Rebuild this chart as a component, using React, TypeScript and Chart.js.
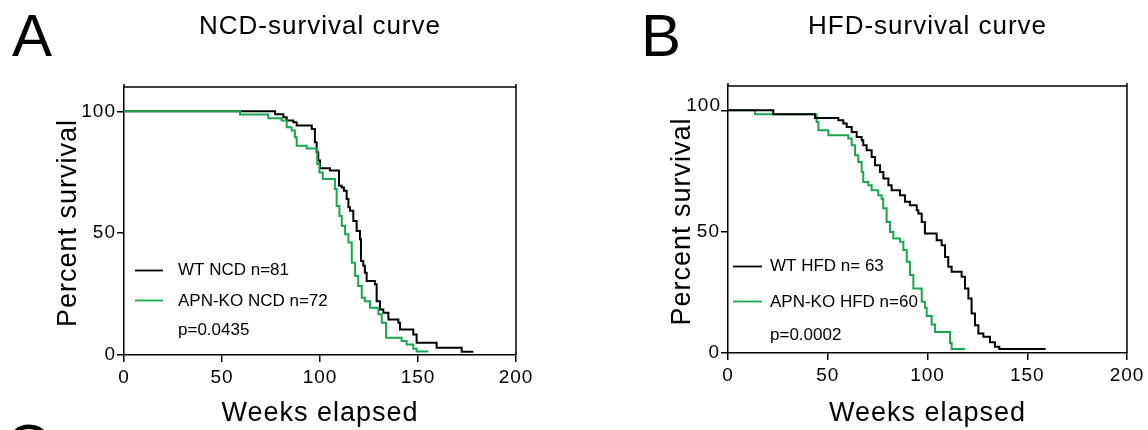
import React, { useEffect, useRef } from 'react';
import { Chart, registerables } from 'chart.js';

Chart.register(...registerables);

const FONT = "'Liberation Sans', Arial, Helvetica, sans-serif";
const BLACK = '#000000';
const GREEN = '#17a84f';

// ---------- Data ----------
const xTicks = [0, 50, 100, 150, 200];
const yTicks = [0, 50, 100];

// Panel A: NCD
const ncdWtWeeks = [0, 77.1, 81.3, 83, 86.4, 88.1, 95.8, 97.4, 98.3, 99.1, 100, 105.1, 109.7, 111.1, 112.2, 113.6, 114.5, 115.3, 117, 118.7, 120.4, 120.9, 122.1, 122.9, 123.8, 128, 128.9, 130.6, 132.3, 134.9, 140, 140.8, 147.6, 149.3, 159.5, 172.3, 178.2];
const ncdWtSurvival = [100, 98.8, 97.6, 96.2, 95.5, 94.2, 92.8, 87.3, 83.2, 79.8, 76.6, 75.7, 69.5, 68.8, 67.4, 64, 60.6, 59.2, 55, 50.9, 47.5, 38.6, 36.6, 33.8, 30.4, 29, 22.1, 18.7, 17.3, 14.6, 13.2, 10.5, 8.4, 5, 3, 1.3, 1.3];
const ncdKoWeeks = [0, 59.2, 73.6, 80.4, 83, 85.5, 87.2, 88.1, 93.2, 98.6, 99.7, 101.4, 107.6, 108.5, 109.9, 111.1, 112.8, 114.5, 116.2, 117.9, 119.5, 121.3, 122.9, 125.5, 129.8, 131.5, 133.7, 141.6, 144.2, 147.6, 149.3, 155.3];
const ncdKoSurvival = [100, 98.7, 97.2, 96.2, 93.5, 92.1, 89.4, 85.9, 84.8, 78.4, 74.9, 72.2, 68.1, 61.2, 57.1, 53, 49.6, 46.2, 37.9, 32.4, 28.3, 23.5, 22.1, 19.4, 16.7, 13.2, 7.1, 5.7, 4.3, 2.6, 1.4, 1.4];

// Panel B: HFD
const hfdWtWeeks = [0, 22.7, 43.6, 55.3, 57.8, 59.5, 62, 64.5, 67, 67.8, 69.5, 72, 73.7, 76.2, 77.9, 80.4, 82, 86.2, 88.7, 91.2, 94.6, 95.4, 97.1, 98.7, 104.6, 107.1, 108.8, 110.4, 112.1, 117.1, 118.8, 120.5, 122.1, 123.8, 125.5, 128, 131.3, 133.8, 136, 159.2];
const hfdWtSurvival = [100, 98.4, 96.8, 95.9, 94.5, 93.1, 91, 89, 87.7, 85.6, 83.5, 80.8, 77.4, 74.6, 71.9, 69.1, 67.1, 65, 62.3, 60.9, 58.8, 57.5, 54, 49.2, 46.5, 44.4, 39.6, 35.5, 33.5, 31.4, 26.6, 22.5, 16.3, 11.4, 8, 6.7, 4.4, 2.6, 1.6, 1.6];
const hfdKoWeeks = [0, 13.5, 44.4, 45.3, 50.3, 60.3, 62, 63.7, 65.3, 67, 67.8, 70.3, 72, 75.3, 77, 77.8, 79.5, 81.2, 82.9, 86.2, 87.9, 89.6, 91.2, 92.9, 97.1, 98.7, 99.6, 102.1, 103.8, 111.3, 112.1, 118.8];
const hfdKoSurvival = [100, 98.4, 95.2, 91.8, 89.7, 88.4, 85.6, 81.5, 78.7, 74.6, 70.5, 69.1, 67.1, 65, 63.5, 59.6, 54, 49.9, 47.2, 45.8, 42.4, 37.6, 32.1, 26.6, 21.1, 18.6, 15.2, 11.7, 8.7, 4.1, 1.6, 1.6];

const toPoints = (w: number[], s: number[]) => w.map((x, i) => ({ x, y: s[i] }));

type PanelCfg = {
  left: number;
  letter: string;
  letterX: number;
  extraLetter?: { text: string; x: number; y: number };
  title: string;
  padding: { left: number; right: number; top: number; bottom: number };
  wt: { weeks: number[]; surv: number[]; label: string };
  ko: { weeks: number[]; surv: number[]; label: string };
  pText: string;
  greenOnTop: boolean;
  legend: { lineX0: number; lineX1: number; textX: number; y1: number; y2: number; y3: number };
  yTitleX: number;
  raise100: boolean;
};

const panels: PanelCfg[] = [
  {
    left: 0,
    letter: 'A',
    letterX: 12,
    extraLetter: { text: 'C', x: 6, y: 466 },
    title: 'NCD-survival curve',
    padding: { left: 64, right: 58, top: 87, bottom: 15 },
    wt: { weeks: ncdWtWeeks, surv: ncdWtSurvival, label: 'WT NCD n=81' },
    ko: { weeks: ncdKoWeeks, surv: ncdKoSurvival, label: 'APN-KO NCD n=72' },
    pText: 'p=0.0435',
    greenOnTop: true,
    legend: { lineX0: 11, lineX1: 39, textX: 54, y1: 270.5, y2: 300.5, y3: 335 },
    yTitleX: 76,
    raise100: false,
  },
  {
    left: 574,
    letter: 'B',
    letterX: 67,
    title: 'HFD-survival curve',
    padding: { left: 94, right: 21, top: 86, bottom: 17 },
    wt: { weeks: hfdWtWeeks, surv: hfdWtSurvival, label: 'WT HFD n= 63' },
    ko: { weeks: hfdKoWeeks, surv: hfdKoSurvival, label: 'APN-KO HFD n=60' },
    pText: 'p=0.0002',
    greenOnTop: false,
    legend: { lineX0: 5, lineX1: 34, textX: 42, y1: 266.5, y2: 301.5, y3: 340 },
    yTitleX: 116,
    raise100: true,
  },
];

const decorPlugin = {
  id: 'decor',
  beforeDraw(chart: any) {
    chart.ctx.letterSpacing = '1px';
  },
  afterDraw(chart: any, _args: any, opts: any) {
    const cfg: PanelCfg = opts.cfg;
    const { ctx, chartArea: ca } = chart;
    ctx.save();
    // frame (top and right)
    ctx.strokeStyle = BLACK;
    ctx.lineWidth = 1.5;
    ctx.beginPath();
    ctx.moveTo(ca.left, ca.top - 3);
    ctx.lineTo(ca.left, ca.top);
    ctx.moveTo(ca.left, ca.top);
    ctx.lineTo(ca.right, ca.top);
    ctx.moveTo(ca.right, ca.top - 3);
    ctx.lineTo(ca.right, ca.bottom);
    ctx.stroke();

    ctx.fillStyle = BLACK;
    // panel letters
    ctx.letterSpacing = '0px';
    ctx.textAlign = 'left';
    ctx.textBaseline = 'alphabetic';
    ctx.font = `60px ${FONT}`;
    ctx.fillText(cfg.letter, cfg.letterX, 55.5);
    if (cfg.extraLetter) ctx.fillText(cfg.extraLetter.text, cfg.extraLetter.x, cfg.extraLetter.y);

    // title
    ctx.letterSpacing = '1px';
    ctx.textAlign = 'center';
    ctx.font = `26px ${FONT}`;
    const cx = (ca.left + ca.right) / 2;
    ctx.fillText(cfg.title, cx, 34);

    // x axis title
    ctx.font = `27px ${FONT}`;
    ctx.fillText('Weeks elapsed', cx, 421);

    // y axis title
    ctx.save();
    ctx.translate(cfg.yTitleX, (ca.top + ca.bottom) / 2 + 2);
    ctx.rotate(-Math.PI / 2);
    ctx.fillText('Percent survival', 0, 0);
    ctx.restore();

    // raised "100" label
    if (cfg.raise100) {
      ctx.font = `19px ${FONT}`;
      ctx.textAlign = 'right';
      ctx.fillText(String(yTicks[2]), ca.left - 7, chart.scales.y.getPixelForValue(yTicks[2]) + 1);
    }

    // legend
    const L = cfg.legend;
    ctx.lineWidth = 1.8;
    ctx.strokeStyle = BLACK;
    ctx.beginPath();
    ctx.moveTo(ca.left + L.lineX0, L.y1);
    ctx.lineTo(ca.left + L.lineX1, L.y1);
    ctx.stroke();
    ctx.strokeStyle = GREEN;
    ctx.beginPath();
    ctx.moveTo(ca.left + L.lineX0, L.y2);
    ctx.lineTo(ca.left + L.lineX1, L.y2);
    ctx.stroke();
    ctx.letterSpacing = '0px';
    ctx.textAlign = 'left';
    ctx.textBaseline = 'middle';
    ctx.font = `17px ${FONT}`;
    ctx.fillText(cfg.wt.label, ca.left + L.textX, L.y1);
    ctx.fillText(cfg.ko.label, ca.left + L.textX, L.y2 + 1);
    ctx.textBaseline = 'alphabetic';
    ctx.fillText(cfg.pText, ca.left + L.textX, L.y3);
    ctx.restore();
  },
};

function Panel({ cfg }: { cfg: PanelCfg }) {
  const ref = useRef<HTMLCanvasElement | null>(null);
  useEffect(() => {
    if (!ref.current) return;
    const axisCommon = {
      type: 'linear' as const,
      grid: { display: true, drawOnChartArea: false, drawTicks: true, tickLength: 7, color: BLACK, lineWidth: 1.5 },
      border: { display: true, color: BLACK, width: 1.5 },
    };
    const chart = new Chart(ref.current, {
      type: 'line',
      data: {
        datasets: [
          {
            label: cfg.wt.label,
            data: toPoints(cfg.wt.weeks, cfg.wt.surv),
            borderColor: BLACK,
            borderWidth: 2,
            stepped: 'before',
            pointRadius: 0,
            fill: false,
            order: cfg.greenOnTop ? 1 : 0,
          },
          {
            label: cfg.ko.label,
            data: toPoints(cfg.ko.weeks, cfg.ko.surv),
            borderColor: GREEN,
            borderWidth: 2,
            stepped: 'before',
            pointRadius: 0,
            fill: false,
            order: cfg.greenOnTop ? 0 : 1,
          },
        ],
      },
      options: {
        animation: false,
        responsive: false,
        devicePixelRatio: 1,
        events: [],
        layout: { padding: cfg.padding },
        plugins: {
          legend: { display: false },
          tooltip: { enabled: false },
          title: { display: false },
          decor: { cfg },
        } as any,
        scales: {
          x: {
            ...axisCommon,
            min: 0,
            max: 200,
            afterBuildTicks: (s: any) => {
              s.ticks = xTicks.map((v) => ({ value: v }));
            },
            afterFit: (s: any) => {
              s.height = 60;
            },
            ticks: { color: BLACK, font: { family: FONT, size: 19 }, padding: 4, maxRotation: 0, autoSkip: false },
          },
          y: {
            ...axisCommon,
            min: 0,
            max: 110,
            afterBuildTicks: (s: any) => {
              s.ticks = yTicks.map((v) => ({ value: v }));
            },
            afterFit: (s: any) => {
              s.width = 60;
            },
            ticks: {
              color: BLACK,
              font: { family: FONT, size: 19 },
              padding: 1,
              autoSkip: false,
              callback: (v: any) => (cfg.raise100 && v === 100 ? '' : String(v)),
            },
          },
        },
      },
      plugins: [decorPlugin],
    });
    return () => chart.destroy();
  }, [cfg]);
  return (
    <div style={{ position: 'absolute', left: cfg.left, top: 0, width: 574, height: 430 }}>
      <canvas ref={ref} width={574} height={430} style={{ width: 574, height: 430, display: 'block' }} />
    </div>
  );
}

export default function App() {
  return (
    <div style={{ position: 'absolute', left: 0, top: 0, width: 1148, height: 430, background: '#ffffff', overflow: 'hidden' }}>
      {panels.map((p) => (
        <Panel key={p.letter} cfg={p} />
      ))}
    </div>
  );
}
